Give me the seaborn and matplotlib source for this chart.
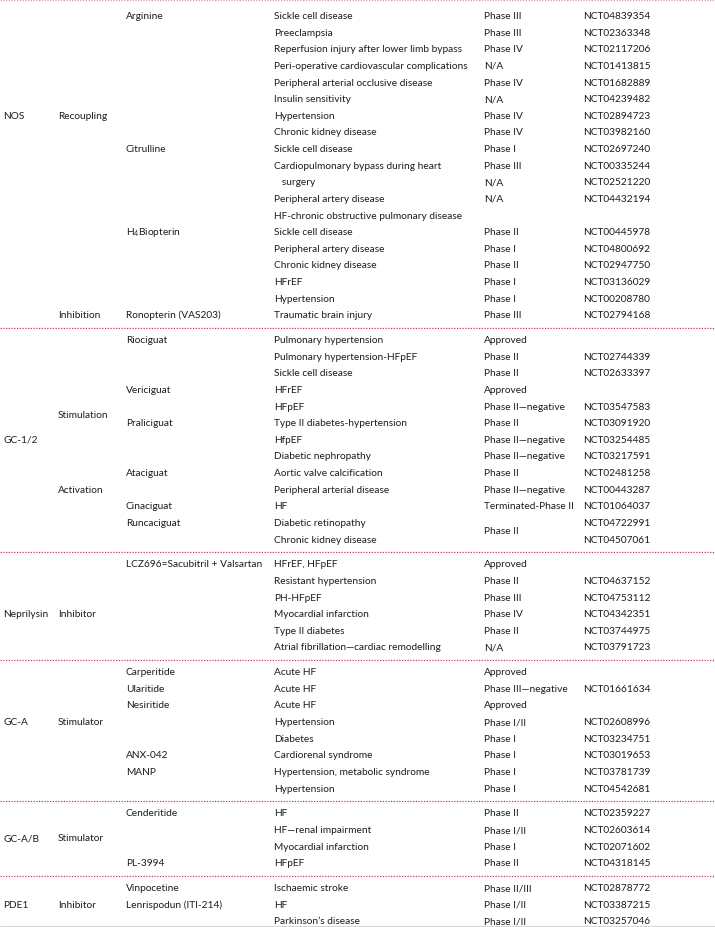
import matplotlib.pyplot as plt
import pandas as pd
import seaborn as sns

# Table content, one entry per printed row
drugs = ['Arginine', '', '', '', '', '', '', '',
         'Citrulline', '', '', '', '',
         r'H$_\mathregular{4}$Biopterin', '', '', '', '',
         'Ronopterin (VAS203)',
         'Riociguat', '', '', 'Vericiguat', '', 'Praliciguat', '', '',
         'Ataciguat', '', 'Cinaciguat', 'Runcaciguat', '',
         'LCZ696=Sacubitril + Valsartan', '', '', '', '', '',
         'Carperitide', 'Ularitide', 'Nesiritide', '', '', 'ANX-042', 'MANP', '',
         'Cenderitide', '', '', 'PL-3994',
         'Vinpocetine', 'Lenrispodun (ITI-214)', '']
indications = ['Sickle cell disease', 'Preeclampsia',
               'Reperfusion injury after lower limb bypass',
               'Peri-operative cardiovascular complications',
               'Peripheral arterial occlusive disease', 'Insulin sensitivity',
               'Hypertension', 'Chronic kidney disease',
               'Sickle cell disease', 'Cardiopulmonary bypass during heart',
               '   surgery', 'Peripheral artery disease',
               'HF-chronic obstructive pulmonary disease',
               'Sickle cell disease', 'Peripheral artery disease',
               'Chronic kidney disease', 'HFrEF', 'Hypertension',
               'Traumatic brain injury',
               'Pulmonary hypertension', 'Pulmonary hypertension-HFpEF',
               'Sickle cell disease', 'HFrEF', 'HFpEF',
               'Type II diabetes-hypertension', 'HfpEF', 'Diabetic nephropathy',
               'Aortic valve calcification', 'Peripheral arterial disease', 'HF',
               'Diabetic retinopathy', 'Chronic kidney disease',
               'HFrEF, HFpEF', 'Resistant hypertension', 'PH-HFpEF',
               'Myocardial infarction', 'Type II diabetes',
               'Atrial fibrillation\u2014cardiac remodelling',
               'Acute HF', 'Acute HF', 'Acute HF', 'Hypertension', 'Diabetes',
               'Cardiorenal syndrome', 'Hypertension, metabolic syndrome',
               'Hypertension',
               'HF', 'HF\u2014renal impairment', 'Myocardial infarction', 'HFpEF',
               'Ischaemic stroke', 'HF', 'Parkinson\u2019s disease']
phases = ['Phase III', 'Phase III', 'Phase IV', 'N/A', 'Phase IV', 'N/A',
          'Phase IV', 'Phase IV',
          'Phase I', 'Phase III', 'N/A', 'N/A', '',
          'Phase II', 'Phase I', 'Phase II', 'Phase I', 'Phase I',
          'Phase III',
          'Approved', 'Phase II', 'Phase II', 'Approved', 'Phase II\u2014negative',
          'Phase II', 'Phase II\u2014negative', 'Phase II\u2014negative',
          'Phase II', 'Phase II\u2014negative', 'Terminated-Phase II', '', '',
          'Approved', 'Phase II', 'Phase III', 'Phase IV', 'Phase II', 'N/A',
          'Approved', 'Phase III\u2014negative', 'Approved', 'Phase I/II',
          'Phase I', 'Phase I', 'Phase I', 'Phase I',
          'Phase II', 'Phase I/II', 'Phase I', 'Phase II',
          'Phase II/III', 'Phase I/II', 'Phase I/II']
trials = ['NCT04839354', 'NCT02363348', 'NCT02117206', 'NCT01413815',
          'NCT01682889', 'NCT04239482', 'NCT02894723', 'NCT03982160',
          'NCT02697240', 'NCT00335244', 'NCT02521220', 'NCT04432194', '',
          'NCT00445978', 'NCT04800692', 'NCT02947750', 'NCT03136029',
          'NCT00208780', 'NCT02794168',
          '', 'NCT02744339', 'NCT02633397', '', 'NCT03547583', 'NCT03091920',
          'NCT03254485', 'NCT03217591', 'NCT02481258', 'NCT00443287',
          'NCT01064037', 'NCT04722991', 'NCT04507061',
          '', 'NCT04637152', 'NCT04753112', 'NCT04342351', 'NCT03744975',
          'NCT03791723',
          '', 'NCT01661634', '', 'NCT02608996', 'NCT03234751', 'NCT03019653',
          'NCT03781739', 'NCT04542681',
          'NCT02359227', 'NCT02603614', 'NCT02071602', 'NCT04318145',
          'NCT02878772', 'NCT03387215', 'NCT03257046']

# rows per target block
group_sizes = [19, 13, 6, 8, 4, 3]

# labels that span rows: (text, row where it is printed)
targets = [('NOS', 6), ('GC-1/2', 25), ('Neprilysin', 35), ('GC-A', 41),
           ('GC-A/B', 47.5), ('PDE1', 51)]
mechanisms = [('Recoupling', 6), ('Inhibition', 18), ('Stimulation', 23.5),
              ('Activation', 28), ('Inhibitor', 35), ('Stimulator', 41),
              ('Stimulator', 47.5), ('Inhibitor', 51)]
merged_phases = [('Phase II', 30.5)]

df = pd.DataFrame({'drug': drugs, 'indication': indications,
                   'phase': phases, 'trial': trials})
df['group'] = sum([[g] * n for g, n in enumerate(group_sizes)], [])

sns.set_theme(style='white')
plt.rcParams['font.family'] = ['Lato', 'DejaVu Sans']
plt.rcParams['mathtext.fontset'] = 'custom'
plt.rcParams['mathtext.rm'] = 'Lato'

TOP, PITCH, GAP = 15.5, 16.62, 8.2
BASE = 3.6  # baseline sits this far below the row centre
bounds = pd.Series(group_sizes).cumsum()


def row_y(r):
    g = int((bounds <= int(r)).sum())
    return TOP + r * PITCH + g * GAP


fig = plt.figure(figsize=(7.15, 9.28), dpi=100)
ax = fig.add_axes([0, 0, 1, 1])
ax.set_xlim(0, 715)
ax.set_ylim(928, 0)
ax.axis('off')

col_x = {'target': 3, 'mech': 58, 'drug': 126, 'indication': 274,
         'phase': 484, 'trial': 583}
txt = dict(fontsize=7.3, color='#1c1c1c', va='baseline', ha='left')

for i, row in df.iterrows():
    y = row_y(i) + BASE
    for col in ['drug', 'indication', 'phase', 'trial']:
        if row[col]:
            ax.text(col_x[col], y, row[col], **txt)

for label, r in targets:
    ax.text(col_x['target'], row_y(r) + BASE, label, **txt)
for label, r in mechanisms:
    ax.text(col_x['mech'], row_y(r) + BASE, label, **txt)
for label, r in merged_phases:
    ax.text(col_x['phase'], row_y(r) + BASE, label, **txt)

# dotted separators between blocks
ax.axhline(1, color='#dd9ab4', lw=0.9, ls=(0, (1, 1.2)))
for b in bounds[:-1]:
    y = row_y(b - 1) + 14
    ax.axhline(y, color='#c4386c', lw=0.9, ls=(0, (1, 1.2)))
ax.axhline(927, color='#d8d8d8', lw=0.8)

fig.savefig('out.png', dpi=100)
